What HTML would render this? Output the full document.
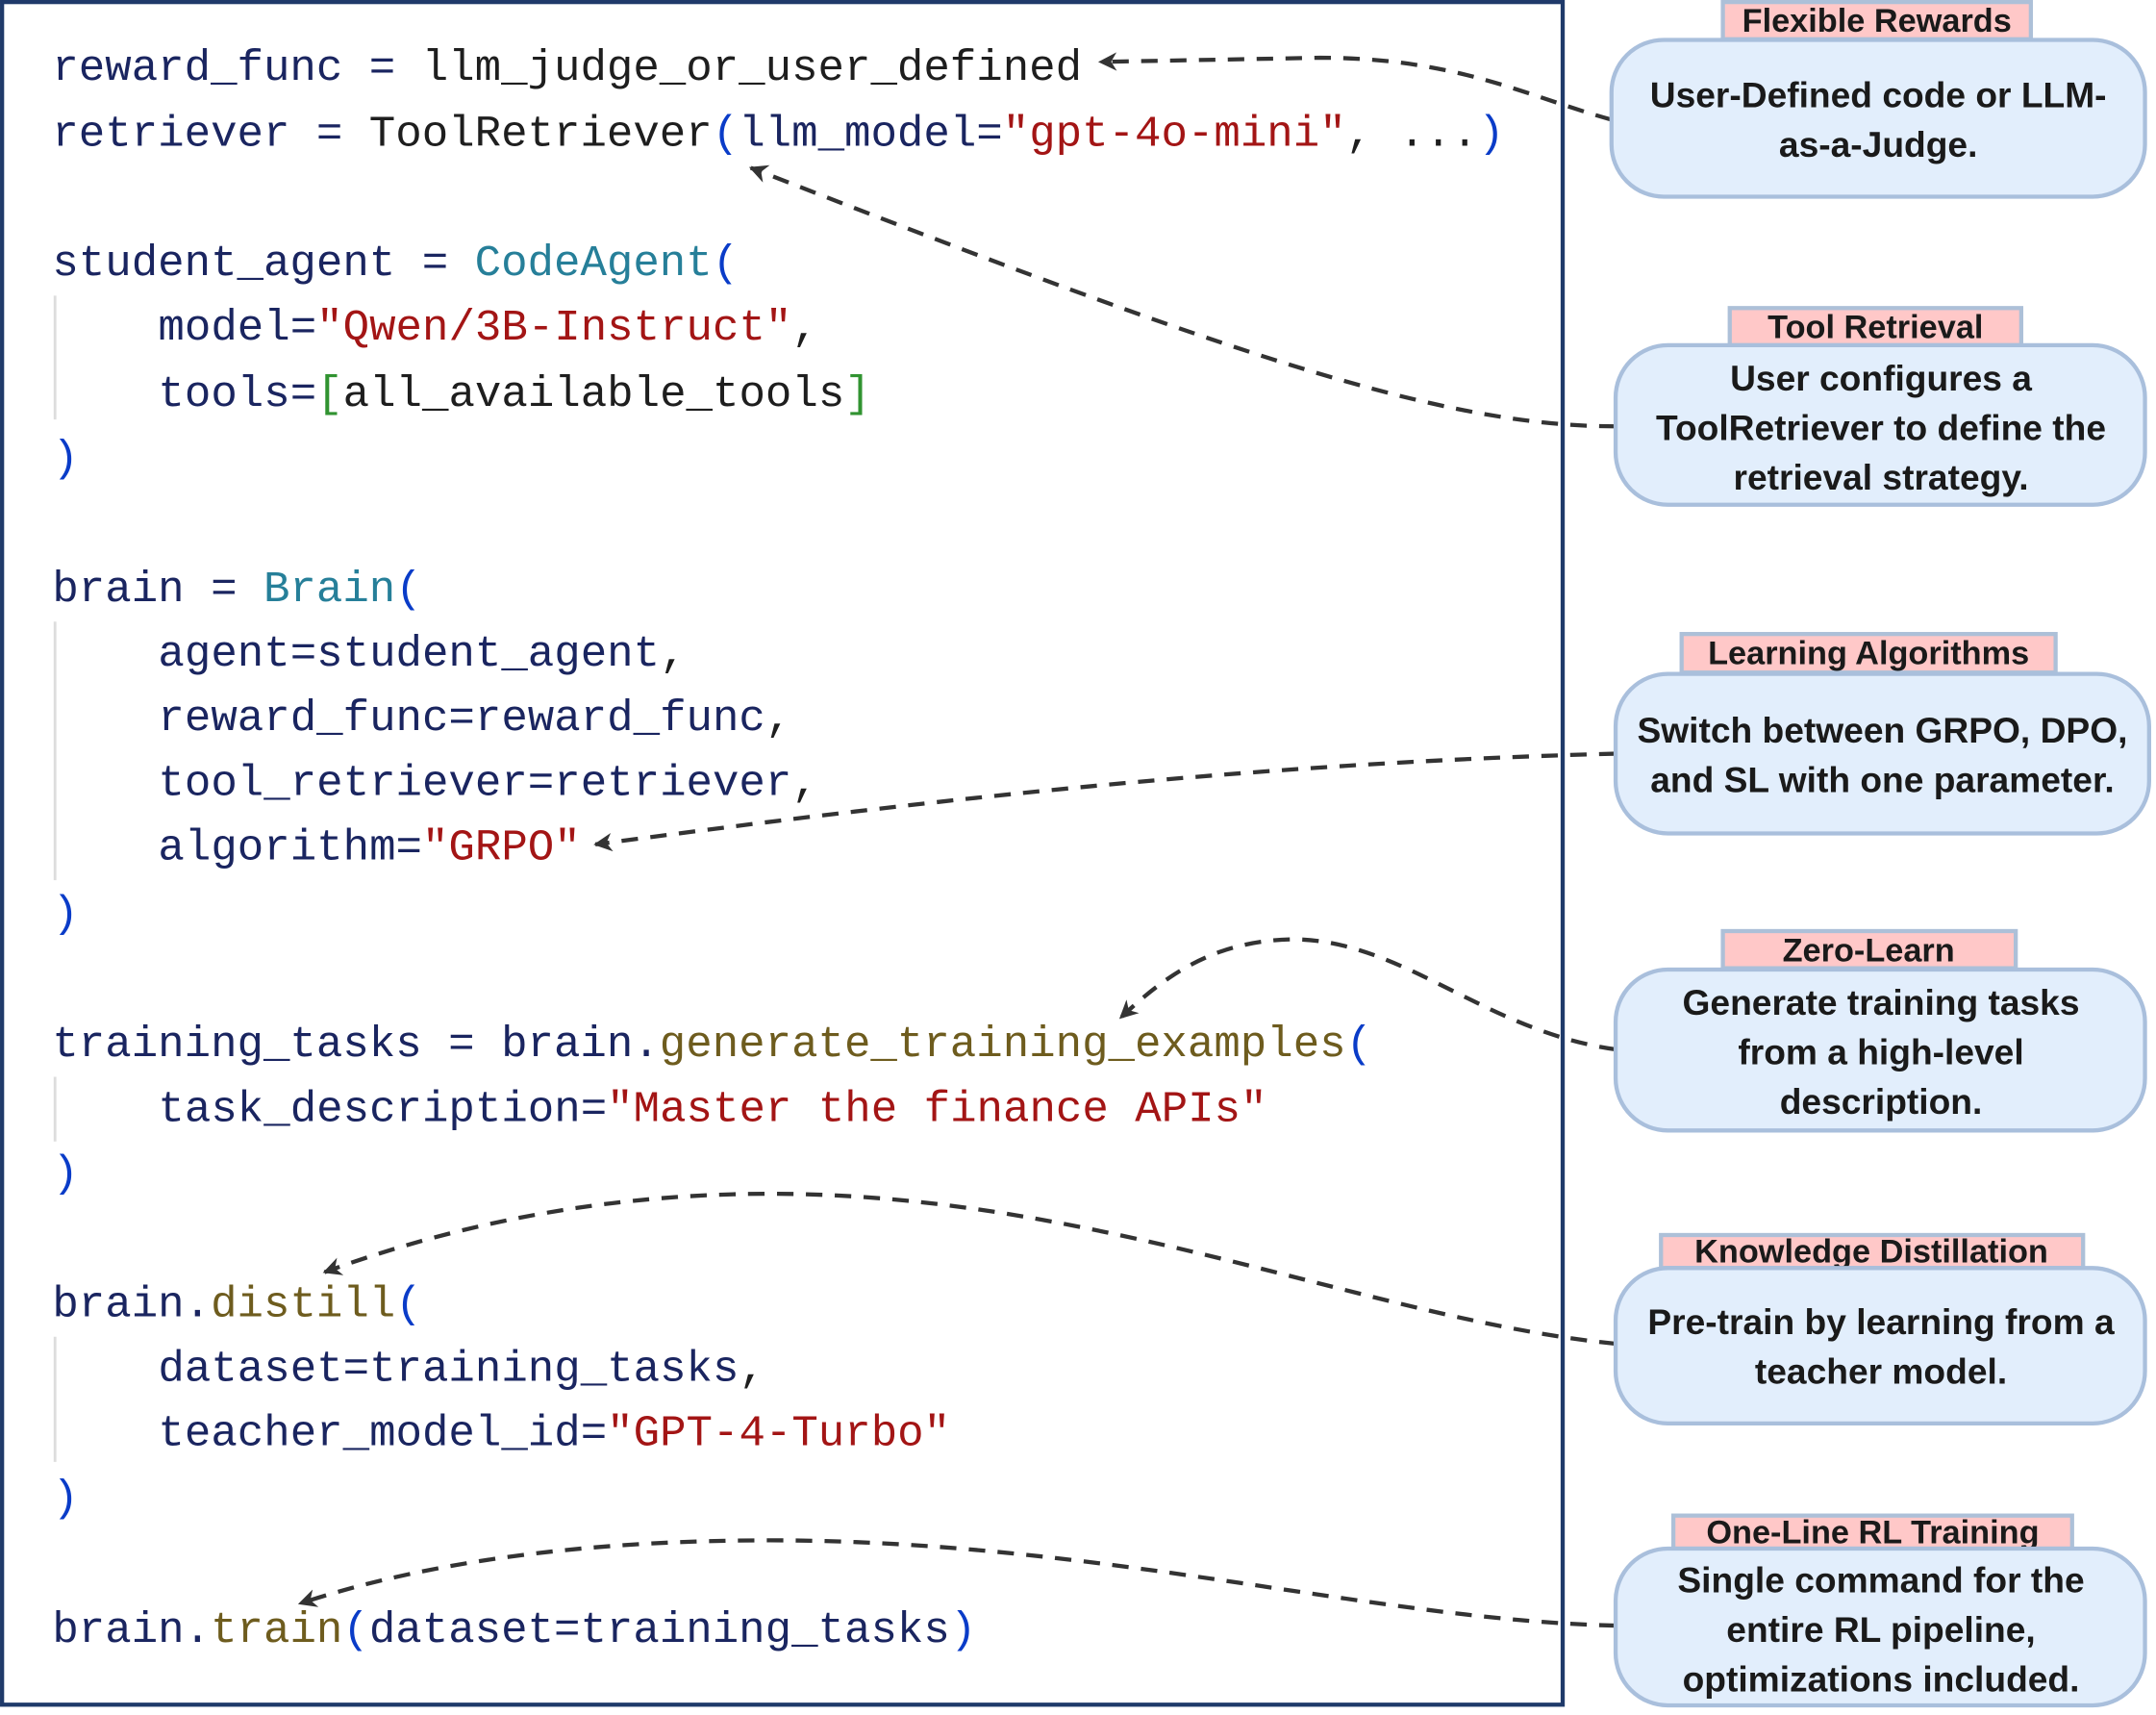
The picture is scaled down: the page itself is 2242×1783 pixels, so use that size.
<!DOCTYPE html>
<html><head><meta charset="utf-8"><style>
html,body{margin:0;padding:0;background:#fff;}
svg{display:block;}
.c{font-family:"Liberation Mono",monospace;font-size:32px;fill:#1a2560;white-space:pre;}
.k{fill:#1e1e1e}.p{fill:#0a3cc8}.s{fill:#a31515}.t{fill:#267f99}.f{fill:#6e5c1e}.g{fill:#319331}
.l{font-family:"Liberation Sans",sans-serif;font-weight:bold;font-size:24px;fill:#1a1a1a;text-anchor:middle;}
.b{font-family:"Liberation Sans",sans-serif;font-weight:bold;font-size:26px;fill:#1a1a1a;text-anchor:middle;}
.lb{fill:#ffc8c8;stroke:#adc0d8;stroke-width:3;}
.bb{fill:#e2eefc;stroke:#a9bfdc;stroke-width:3;}
.d{fill:none;stroke:#333;stroke-width:3;stroke-dasharray:12 9;}
</style></head><body>
<svg width="2242" height="1783" viewBox="0 0 1568 1247" xmlns="http://www.w3.org/2000/svg">
<defs><marker id="a" viewBox="0 0 10 10" refX="9" refY="5" markerWidth="4.5" markerHeight="4.5" orient="auto"><path d="M0,0 L10,5 L0,10 L3,5 Z" fill="#333"/></marker></defs>
<rect x="1.5" y="1.5" width="1135" height="1238" fill="#fff" stroke="#1f3a6a" stroke-width="3"/>
<g stroke="#ddd" stroke-width="2">
<line x1="40" y1="215" x2="40" y2="305"/><line x1="40" y1="452" x2="40" y2="640"/>
<line x1="40" y1="783" x2="40" y2="830"/><line x1="40" y1="972" x2="40" y2="1063"/></g>
<g class="c">
<text x="38" y="58">reward_func = <tspan class="k">llm_judge_or_user_defined</tspan></text>
<text x="38" y="106">retriever = <tspan class="k">ToolRetriever</tspan><tspan class="p">(</tspan>llm_model=<tspan class="s">"gpt-4o-mini"</tspan><tspan class="k">, ...</tspan><tspan class="p">)</tspan></text>
<text x="38" y="200">student_agent = <tspan class="t">CodeAgent</tspan><tspan class="p">(</tspan></text>
<text x="115" y="247">model=<tspan class="s">"Qwen/3B-Instruct"</tspan><tspan class="k">,</tspan></text>
<text x="115" y="295">tools=<tspan class="g">[</tspan><tspan class="k">all_available_tools</tspan><tspan class="g">]</tspan></text>
<text x="38" y="342" class="p">)</text>
<text x="38" y="437">brain = <tspan class="t">Brain</tspan><tspan class="p">(</tspan></text>
<text x="115" y="484">agent=student_agent<tspan class="k">,</tspan></text>
<text x="115" y="531">reward_func=reward_func<tspan class="k">,</tspan></text>
<text x="115" y="578">tool_retriever=retriever<tspan class="k">,</tspan></text>
<text x="115" y="625">algorithm=<tspan class="s">"GRPO"</tspan></text>
<text x="38" y="673" class="p">)</text>
<text x="38" y="768">training_tasks = brain.<tspan class="f">generate_training_examples</tspan><tspan class="p">(</tspan></text>
<text x="115" y="815">task_description=<tspan class="s">"Master the finance APIs"</tspan></text>
<text x="38" y="862" class="p">)</text>
<text x="38" y="957">brain.<tspan class="f">distill</tspan><tspan class="p">(</tspan></text>
<text x="115" y="1004">dataset=training_tasks<tspan class="k">,</tspan></text>
<text x="115" y="1051">teacher_model_id=<tspan class="s">"GPT-4-Turbo"</tspan></text>
<text x="38" y="1098" class="p">)</text>
<text x="38" y="1194">brain.<tspan class="f">train</tspan><tspan class="p">(</tspan>dataset=training_tasks<tspan class="p">)</tspan></text>
</g>
<g>
<path class="d" marker-end="url(#a)" d="M1172,87 C1110,70 1060,42 960,42 L800,45"/>
<path class="d" marker-end="url(#a)" d="M1175,310 C1050,310 900,260 546,122"/>
<path class="d" marker-end="url(#a)" d="M1175,548 C900,555 650,585 433,614"/>
<path class="d" marker-end="url(#a)" d="M1175,763 C1080,750 1020,683 940,683 C880,684 845,712 815,740"/>
<path class="d" marker-end="url(#a)" d="M1175,977 C1000,960 800,868 560,868 C420,868 310,898 236,925"/>
<path class="d" marker-end="url(#a)" d="M1175,1182 C1000,1178 800,1120 560,1120 C400,1120 290,1142 218,1166"/>
</g>
<rect class="lb" x="1253" y="1.5" width="224" height="27"/>
<text class="l" x="1365" y="23">Flexible Rewards</text>
<rect class="bb" x="1172" y="29" width="388" height="114" rx="38"/>
<text class="b" x="1366" y="78">User-Defined code or LLM-</text>
<text class="b" x="1366" y="114">as-a-Judge.</text>
<rect class="lb" x="1258" y="224" width="212" height="27"/>
<text class="l" x="1364" y="246">Tool Retrieval</text>
<rect class="bb" x="1175" y="251" width="385" height="116" rx="38"/>
<text class="b" x="1368" y="284">User configures a</text>
<text class="b" x="1368" y="320">ToolRetriever to define the</text>
<text class="b" x="1368" y="356">retrieval strategy.</text>
<rect class="lb" x="1223" y="461" width="272" height="28"/>
<text class="l" x="1359" y="483">Learning Algorithms</text>
<rect class="bb" x="1175" y="490" width="388" height="116" rx="38"/>
<text class="b" x="1369" y="540">Switch between GRPO, DPO,</text>
<text class="b" x="1369" y="576">and SL with one parameter.</text>
<rect class="lb" x="1253" y="677" width="213" height="27"/>
<text class="l" x="1359" y="699">Zero-Learn</text>
<rect class="bb" x="1175" y="705" width="385" height="117" rx="38"/>
<text class="b" x="1368" y="738">Generate training tasks</text>
<text class="b" x="1368" y="774">from a high-level</text>
<text class="b" x="1368" y="810">description.</text>
<rect class="lb" x="1208" y="898" width="307" height="24"/>
<text class="l" x="1361" y="918">Knowledge Distillation</text>
<rect class="bb" x="1175" y="922" width="385" height="113" rx="38"/>
<text class="b" x="1368" y="970">Pre-train by learning from a</text>
<text class="b" x="1368" y="1006">teacher model.</text>
<rect class="lb" x="1217" y="1102" width="290" height="24"/>
<text class="l" x="1362" y="1122">One-Line RL Training</text>
<rect class="bb" x="1175" y="1126" width="385" height="114" rx="38"/>
<text class="b" x="1368" y="1158">Single command for the</text>
<text class="b" x="1368" y="1194">entire RL pipeline,</text>
<text class="b" x="1368" y="1230">optimizations included.</text>
</svg>
</body></html>
